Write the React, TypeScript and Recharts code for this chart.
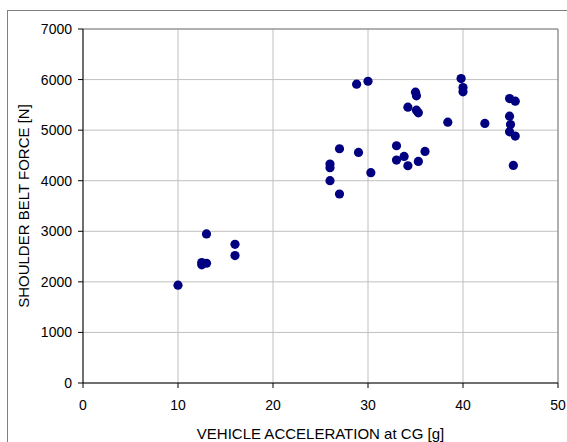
import React from 'react';
import { ScatterChart, Scatter, XAxis, YAxis, CartesianGrid, ReferenceLine } from 'recharts';

const accelG = [10, 12.5, 12.5, 13.0, 13.0, 16.0, 16.0, 26.0, 26.0, 26.0, 27.0, 27.0, 28.8, 30.0, 29.0, 30.3, 33.0, 33.0, 33.8, 34.2, 34.2, 35.0, 35.1, 35.1, 35.3, 35.3, 36.0, 38.4, 39.8, 40.0, 40.0, 42.3, 44.9, 45.5, 44.9, 45.0, 44.9, 45.5, 45.3];
const beltForceN = [1934, 2336, 2382, 2368, 2947, 2743, 2520, 4329, 4257, 4000, 4632, 3737, 5908, 5967, 4559, 4158, 4691, 4408, 4480, 4296, 5454, 5750, 5678, 5395, 5342, 4382, 4579, 5158, 6020, 5842, 5757, 5132, 5625, 5572, 5276, 5112, 4967, 4882, 4303];
const xTicks = [0, 10, 20, 30, 40, 50];
const yTicks = [0, 1000, 2000, 3000, 4000, 5000, 6000, 7000];

const data = accelG.map((x, i) => ({ x, y: beltForceN[i] }));

const FONT = '"Liberation Sans", Arial, sans-serif';

const Dot = (props: any) => (
  <circle cx={props.cx} cy={props.cy} r={4.6} fill="#000080" />
);

export default function App() {
  return (
    <div style={{ position: 'absolute', left: 0, top: 0, width: 567, height: 442, overflow: 'hidden', background: '#fff' }}>
      <div style={{ position: 'absolute', left: 7, top: 10, width: 700, height: 600, border: '1px solid #808080', boxSizing: 'border-box' }} />
      <div style={{ position: 'absolute', left: 0, top: 0 }}>
        <ScatterChart width={567} height={442} margin={{ top: 29, right: 9, left: 0, bottom: 0 }}>
          <CartesianGrid stroke="#c0c0c0" strokeWidth={1} />
          <ReferenceLine y={7000} stroke="#808080" strokeWidth={1} />
          <ReferenceLine x={50} stroke="#808080" strokeWidth={1} />
          <XAxis
            type="number"
            dataKey="x"
            domain={[0, 50]}
            ticks={xTicks}
            height={59}
            axisLine={{ stroke: '#000' }}
            tickLine={{ stroke: '#000' }}
            tickSize={5}
            tickMargin={12}
            tick={{ fill: '#000', fontSize: 14, fontFamily: FONT }}
            interval={0}
            label={{
              content: () => (
                <text x={320.5} y={439} textAnchor="middle" fill="#000" fontSize={15} fontFamily={FONT}>
                  VEHICLE ACCELERATION at CG [g]
                </text>
              ),
            }}
          />
          <YAxis
            type="number"
            dataKey="y"
            domain={[0, 7000]}
            ticks={yTicks}
            width={83}
            axisLine={{ stroke: '#000' }}
            tickLine={{ stroke: '#000' }}
            tickSize={5}
            tickMargin={6}
            tick={{ fill: '#000', fontSize: 14, fontFamily: FONT }}
            interval={0}
            label={{
              content: () => (
                <text x={29} y={206} transform="rotate(-90 29 206)" textAnchor="middle" fill="#000" fontSize={15} fontFamily={FONT}>
                  SHOULDER BELT FORCE [N]
                </text>
              ),
            }}
          />
          <Scatter data={data} shape={Dot} isAnimationActive={false} />
        </ScatterChart>
      </div>
    </div>
  );
}
